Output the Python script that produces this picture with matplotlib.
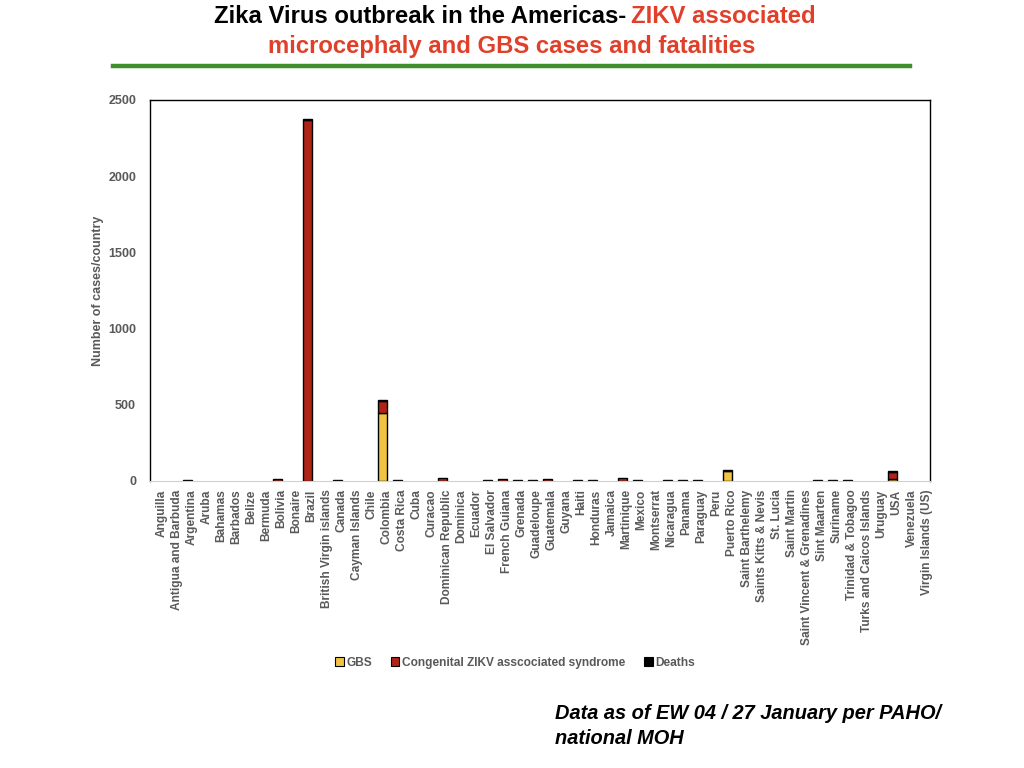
import numpy as np
import matplotlib
matplotlib.use('Agg')
import matplotlib.pyplot as plt
from matplotlib.patches import Patch
from matplotlib.lines import Line2D

plt.rcParams['font.family'] = ['Liberation Sans', 'DejaVu Sans']

# data
countries = ['Anguilla', 'Antigua and Barbuda', 'Argentina', 'Aruba', 'Bahamas',
             'Barbados', 'Belize', 'Bermuda', 'Bolivia', 'Bonaire', 'Brazil',
             'British Virgin islands', 'Canada', 'Cayman Islands', 'Chile',
             'Colombia', 'Costa Rica', 'Cuba', 'Curacao', 'Dominican Republic',
             'Dominica', 'Ecuador', 'El Salvador', 'French Guiana', 'Grenada',
             'Guadeloupe', 'Guatemala', 'Guyana', 'Haiti', 'Honduras', 'Jamaica',
             'Martinique', 'Mexico', 'Montserrat', 'Nicaragua', 'Panama',
             'Paraguay', 'Peru', 'Puerto Rico', 'Saint Barthelemy',
             'Saints Kitts & Nevis', 'St. Lucia', 'Saint Martin',
             'Saint Vincent & Grenadines', 'Sint Maarten', 'Suriname',
             'Trinidad & Tobagoo', 'Turks and Caicos Islands', 'Uruguay', 'USA',
             'Venezuela', 'Virgin Islands (US)']

gbs = [0, 0, 0, 0, 0, 0, 0, 0, 0, 0, 0,
       0, 0, 0, 0, 446, 0, 0, 0, 0,
       0, 0, 0, 0, 0, 0, 0, 0, 0, 0, 0,
       0, 0, 0, 0, 0, 0, 0, 64, 0,
       0, 0, 0, 0, 0, 0, 0, 0, 0, 13,
       0, 0]

congenital = [0, 0, 5, 0, 0, 0, 0, 0, 12, 0, 2366,
              0, 4, 0, 0, 82, 4, 0, 0, 20,
              0, 0, 5, 14, 4, 5, 14, 0, 4, 5, 0,
              20, 5, 0, 5, 6, 5, 0, 0, 0,
              0, 0, 0, 0, 5, 5, 5, 0, 0, 46,
              0, 0]

deaths = [0, 0, 0, 0, 0, 0, 0, 0, 0, 0, 8,
          0, 0, 0, 0, 3, 0, 0, 0, 0,
          0, 0, 0, 0, 0, 0, 0, 0, 0, 0, 0,
          0, 0, 0, 0, 0, 0, 0, 10, 0,
          0, 0, 0, 0, 0, 0, 0, 0, 0, 4,
          0, 0]

gbs = np.array(gbs)
congenital = np.array(congenital)
deaths = np.array(deaths)

yellow = '#f2c343'
red = '#b02418'
gray = '#595959'

fig = plt.figure(figsize=(10.24, 7.68), dpi=100)
ax = fig.add_axes([0.1465, 0.3737, 0.7617, 0.4961])

x = np.arange(len(countries))
w = 0.6
for vals, base, col in [(gbs, np.zeros(len(x)), yellow),
                        (congenital, gbs, red),
                        (deaths, gbs + congenital, 'black')]:
    m = vals > 0
    ax.bar(x[m], vals[m], w, bottom=base[m],
           color=col, edgecolor='black', linewidth=1)

ax.set_xlim(-0.5, len(countries) - 0.5)
ax.set_ylim(0, 2500)
ax.set_yticks(np.arange(0, 2501, 500))
# labels sit slightly right of the bar centres in the original
ax.set_xticks(x + 0.27)
ax.set_xticklabels(countries, rotation=90, fontsize=8.6, fontweight='bold', color=gray)
ax.tick_params(axis='both', length=0)
ax.tick_params(axis='x', pad=6)
ax.tick_params(axis='y', labelsize=9, labelcolor=gray, pad=10)
for t in ax.get_yticklabels():
    t.set_fontweight('bold')
ax.set_ylabel('Number of cases/country', fontsize=9, fontweight='bold', color=gray)
ax.yaxis.set_label_coords(-0.059, 0.5)
for s in ['left', 'top', 'right']:
    ax.spines[s].set_color('black')
    ax.spines[s].set_linewidth(1)
ax.spines['bottom'].set_color('#d0d0d0')

handles = [Patch(facecolor=yellow, edgecolor='black', linewidth=0.8),
           Patch(facecolor=red, edgecolor='black', linewidth=0.8),
           Patch(facecolor='black', edgecolor='black', linewidth=0.8)]
leg = fig.legend(handles, ['GBS', 'Congenital ZIKV asscociated syndrome', 'Deaths'],
                 loc='center', bbox_to_anchor=(0.503, 0.137), ncol=3, frameon=False,
                 handlelength=0.7, handleheight=0.7, handletextpad=0.2,
                 columnspacing=1.6, prop={'size': 8.6, 'weight': 'bold'})
for t in leg.get_texts():
    t.set_color(gray)

# title
title_red = '#e0402a'
fig.text(0.612, 0.978, 'Zika Virus outbreak in the Americas-', ha='right', va='center',
         fontsize=17.2, fontweight='bold', color='black')
fig.text(0.616, 0.978, 'ZIKV associated', ha='left', va='center',
         fontsize=17.2, fontweight='bold', color=title_red)
fig.text(0.5, 0.94, 'microcephaly and GBS cases and fatalities', ha='center', va='center',
         fontsize=17.2, fontweight='bold', color=title_red)
fig.add_artist(Line2D([0.11, 0.889], [0.914, 0.914], color='#3f8f2f', linewidth=3.2))

fig.text(0.542, 0.055, 'Data as of EW 04 / 27 January per PAHO/\nnational MOH', ha='left',
         va='center', fontsize=14.4, fontweight='bold', fontstyle='italic', color='black',
         linespacing=1.4)

fig.savefig('out.png', dpi=100)
